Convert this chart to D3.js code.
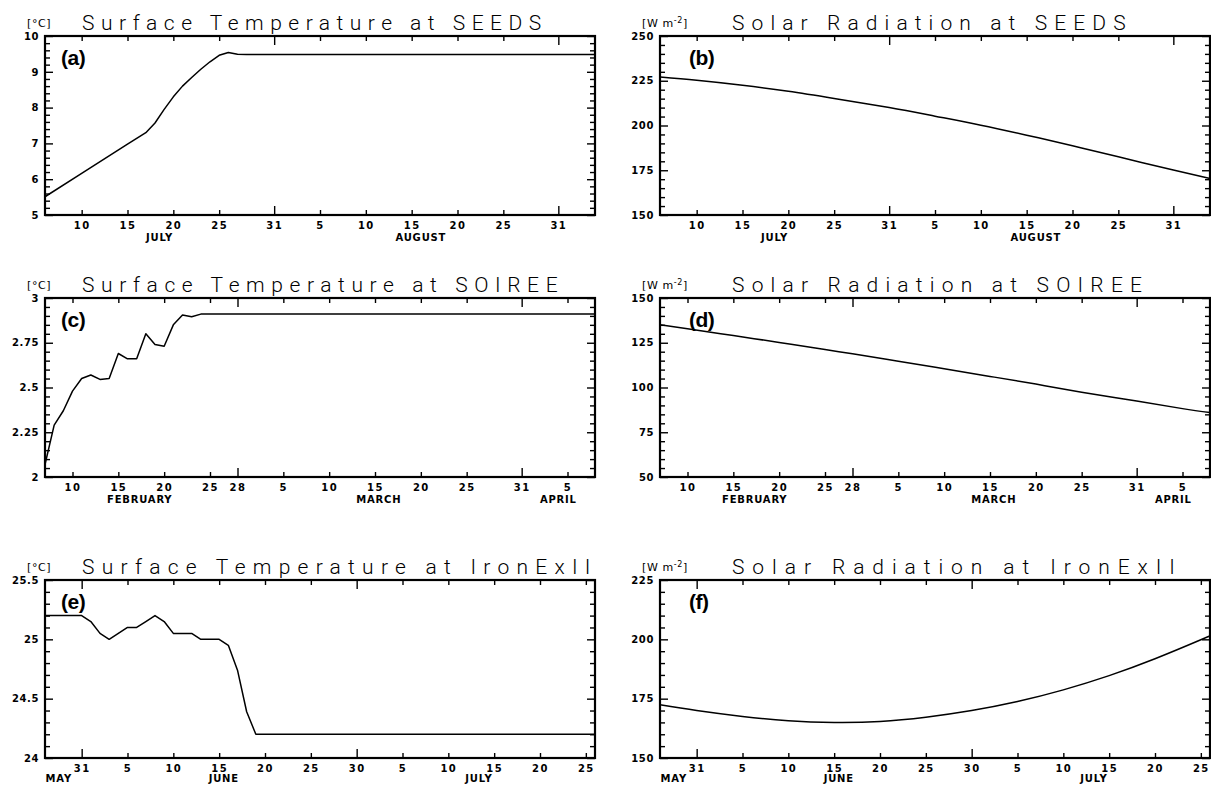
<!DOCTYPE html>
<html>
<head>
<meta charset="utf-8">
<script src="https://cdn.jsdelivr.net/npm/d3@7"></script>
<style>
  body { margin: 0; background: #fff; }
</style>
</head>
<body>
<script>
// ---- SEEDS (2001) ----
const seedsRange = ["2001-07-06", "2001-09-04"];
const seedsTempDates = ["2001-07-06","2001-07-10","2001-07-15","2001-07-17","2001-07-18","2001-07-19","2001-07-20",
  "2001-07-21","2001-07-22","2001-07-23","2001-07-24","2001-07-25","2001-07-26","2001-07-27","2001-07-28","2001-09-04"];
const seedsTempValues = [5.51, 6.16, 6.98, 7.30, 7.57, 7.95, 8.30, 8.60, 8.84, 9.07, 9.28, 9.46, 9.54, 9.49, 9.48, 9.48];
const seedsSolarDates = ["2001-07-06","2001-07-10","2001-07-15","2001-07-20","2001-07-25","2001-07-31","2001-08-05",
  "2001-08-10","2001-08-15","2001-08-20","2001-08-25","2001-08-31","2001-09-04"];
const seedsSolarValues = [227.1, 225.3, 222.5, 219.1, 215.1, 210.0, 205.2, 200.2, 194.6, 188.7, 182.5, 175.1, 170.4];
const seedsTicks = ["2001-07-10","2001-07-15","2001-07-20","2001-07-25","2001-07-31","2001-08-05","2001-08-10",
  "2001-08-15","2001-08-20","2001-08-25","2001-08-31"];
const seedsMonths = ["JULY", "AUGUST"];
const seedsMonthAt = ["2001-07-18T12:00", "2001-08-16"];

// ---- SOIREE (1999) ----
const soireeRange = ["1999-02-07", "1999-04-08"];
const soireeTempDates = ["1999-02-07","1999-02-08","1999-02-09","1999-02-10","1999-02-11","1999-02-12","1999-02-13",
  "1999-02-14","1999-02-15","1999-02-16","1999-02-17","1999-02-18","1999-02-19","1999-02-20","1999-02-21","1999-02-22",
  "1999-02-23","1999-02-24","1999-04-08"];
const soireeTempValues = [2.07, 2.29, 2.37, 2.48, 2.55, 2.57, 2.545, 2.55, 2.69, 2.66, 2.66, 2.80, 2.74, 2.73, 2.85,
  2.905, 2.895, 2.91, 2.91];
const soireeSolarDates = ["1999-02-07","1999-02-10","1999-02-15","1999-02-20","1999-02-25","1999-02-28","1999-03-05",
  "1999-03-10","1999-03-15","1999-03-20","1999-03-25","1999-03-31","1999-04-05","1999-04-08"];
const soireeSolarValues = [135.0, 132.8, 129.0, 125.2, 121.2, 118.8, 114.7, 110.5, 106.2, 101.9, 97.4, 92.4, 88.2, 86.0];
const soireeTicks = ["1999-02-10","1999-02-15","1999-02-20","1999-02-25","1999-02-28","1999-03-05","1999-03-10",
  "1999-03-15","1999-03-20","1999-03-25","1999-03-31","1999-04-05"];
const soireeMonths = ["FEBRUARY", "MARCH", "APRIL"];
const soireeMonthAt = ["1999-02-17T08:00", "1999-03-15T10:00", "1999-04-04"];

// ---- IronExII (1995) ----
const ironRange = ["1995-05-27", "1995-07-26"];
const ironTempDates = ["1995-05-27","1995-05-31","1995-06-01","1995-06-02","1995-06-03","1995-06-04","1995-06-05",
  "1995-06-06","1995-06-07","1995-06-08","1995-06-09","1995-06-10","1995-06-11","1995-06-12","1995-06-13","1995-06-14",
  "1995-06-15","1995-06-16","1995-06-17","1995-06-18","1995-06-19","1995-07-26"];
const ironTempValues = [25.2, 25.2, 25.15, 25.05, 25.0, 25.05, 25.1, 25.1, 25.15, 25.2, 25.15, 25.05, 25.05, 25.05,
  25.0, 25.0, 25.0, 24.95, 24.74, 24.39, 24.2, 24.2];
const ironSolarDates = ["1995-05-27","1995-05-31","1995-06-05","1995-06-10","1995-06-15","1995-06-20","1995-06-25",
  "1995-06-30","1995-07-05","1995-07-10","1995-07-15","1995-07-20","1995-07-25","1995-07-26"];
const ironSolarValues = [172.4, 170.0, 167.5, 165.7, 165.0, 165.4, 167.2, 170.0, 173.8, 178.7, 184.7, 191.8, 199.8, 201.5];
const ironTicks = ["1995-05-31","1995-06-05","1995-06-10","1995-06-15","1995-06-20","1995-06-25","1995-06-30",
  "1995-07-05","1995-07-10","1995-07-15","1995-07-20","1995-07-25"];
const ironMonths = ["MAY", "JUNE", "JULY"];
const ironMonthAt = ["1995-05-28T12:00", "1995-06-15T12:00", "1995-07-13T08:00"];

// parse dates as UTC
const toDate = s => new Date(s.length === 10 ? s + "T00:00Z" : s + "Z");

const W = 1211, H = 785;
const cols = [{x0: 45, x1: 595, tag: 16}, {x0: 660, x1: 1210, tag: 29}];
const rows = [{y0: 36, y1: 215}, {y0: 298, y1: 477}, {y0: 580, y1: 758}];

const panels = [
  {col: 0, row: 0, tag: "(a)", unit: "°C", title: "Surface Temperature at SEEDS",
   range: seedsRange, dates: seedsTempDates, values: seedsTempValues, ticks: seedsTicks,
   months: seedsMonths, monthAt: seedsMonthAt, yDomain: [5, 10], major: 1, minor: 0.2, smooth: false},
  {col: 1, row: 0, tag: "(b)", unit: "W m", title: "Solar Radiation at SEEDS",
   range: seedsRange, dates: seedsSolarDates, values: seedsSolarValues, ticks: seedsTicks,
   months: seedsMonths, monthAt: seedsMonthAt, yDomain: [150, 250], major: 25, minor: 5, smooth: true},
  {col: 0, row: 1, tag: "(c)", unit: "°C", title: "Surface Temperature at SOIREE",
   range: soireeRange, dates: soireeTempDates, values: soireeTempValues, ticks: soireeTicks,
   months: soireeMonths, monthAt: soireeMonthAt, yDomain: [2, 3], major: 0.25, minor: 0.05, smooth: false},
  {col: 1, row: 1, tag: "(d)", unit: "W m", title: "Solar Radiation at SOIREE",
   range: soireeRange, dates: soireeSolarDates, values: soireeSolarValues, ticks: soireeTicks,
   months: soireeMonths, monthAt: soireeMonthAt, yDomain: [50, 150], major: 25, minor: 5, smooth: true},
  {col: 0, row: 2, tag: "(e)", unit: "°C", title: "Surface Temperature at IronExII",
   range: ironRange, dates: ironTempDates, values: ironTempValues, ticks: ironTicks,
   months: ironMonths, monthAt: ironMonthAt, yDomain: [24, 25.5], major: 0.5, minor: 0.1, smooth: false},
  {col: 1, row: 2, tag: "(f)", unit: "W m", title: "Solar Radiation at IronExII",
   range: ironRange, dates: ironSolarDates, values: ironSolarValues, ticks: ironTicks,
   months: ironMonths, monthAt: ironMonthAt, yDomain: [150, 225], major: 25, minor: 5, smooth: true}
];

const svg = d3.select("body").append("svg")
  .attr("width", W)
  .attr("height", H)
  .style("display", "block");

const labelFont = "'DejaVu Sans', 'Liberation Sans', sans-serif";
const dayFmt = d3.utcFormat("%-d");
const fmtY = d3.format("~g");
const isMonthEnd = d => d3.utcDay.offset(d, 1).getUTCMonth() !== d.getUTCMonth();

function styleAxis(g) {
  g.select(".domain").remove();
  g.selectAll(".tick line").attr("stroke", "#000").attr("stroke-width", 1.4);
  g.selectAll("text")
    .attr("fill", "#000")
    .style("font-family", labelFont)
    .style("font-weight", "bold")
    .style("font-size", "10px");
}

panels.forEach(p => {
  const c = cols[p.col], r = rows[p.row];
  const x = d3.scaleUtc().domain(p.range.map(toDate)).range([c.x0, c.x1]);
  const y = d3.scaleLinear().domain(p.yDomain).range([r.y1, r.y0]);
  const g = svg.append("g");

  const [ya, yb] = p.yDomain;
  const majorVals = d3.range(ya, yb + p.major / 2, p.major);
  const minorVals = d3.range(ya, yb + p.minor / 2, p.minor)
    .filter(v => !majorVals.some(m => Math.abs(m - v) < p.minor / 10));

  // y axis left with labels, ticks pointing inward
  g.append("g").attr("transform", `translate(${c.x0},0)`)
    .call(d3.axisLeft(y).tickValues(majorVals).tickSize(-8).tickPadding(6).tickFormat(fmtY))
    .call(styleAxis)
    .call(a => a.selectAll("text").style("letter-spacing", "0.6px"));
  g.append("g").attr("transform", `translate(${c.x0},0)`)
    .call(d3.axisLeft(y).tickValues(minorVals).tickSize(-5).tickFormat(""))
    .call(styleAxis);
  // mirrored ticks on the right frame
  g.append("g").attr("transform", `translate(${c.x1},0)`)
    .call(d3.axisRight(y).tickValues(majorVals).tickSize(-8).tickFormat(""))
    .call(styleAxis);
  g.append("g").attr("transform", `translate(${c.x1},0)`)
    .call(d3.axisRight(y).tickValues(minorVals).tickSize(-5).tickFormat(""))
    .call(styleAxis);

  // x axis bottom and top
  const tickDates = p.ticks.map(toDate);
  g.append("g").attr("transform", `translate(0,${r.y1})`)
    .call(d3.axisBottom(x).tickValues(tickDates).tickSize(-5).tickPadding(7).tickFormat(dayFmt))
    .call(styleAxis)
    .call(a => a.selectAll(".tick line").attr("y2", d => isMonthEnd(d) ? -9 : -5))
    .call(a => a.selectAll("text").style("letter-spacing", "1.5px"));
  g.append("g").attr("transform", `translate(0,${r.y0})`)
    .call(d3.axisTop(x).tickValues(tickDates).tickSize(-5).tickFormat(""))
    .call(styleAxis)
    .call(a => a.selectAll(".tick line").attr("y2", d => isMonthEnd(d) ? 9 : 5));

  // month names (last row sits right at the page edge)
  g.selectAll("text.month")
    .data(p.months)
    .enter()
    .append("text")
    .attr("class", "month")
    .attr("x", (d, i) => x(toDate(p.monthAt[i])))
    .attr("y", Math.min(r.y1 + 26, H - 3))
    .attr("text-anchor", "middle")
    .style("font-family", labelFont)
    .style("font-weight", "bold")
    .style("font-size", "10px")
    .style("letter-spacing", "0.8px")
    .text(d => d);

  // data line
  const pts = p.dates.map((d, i) => [toDate(d), p.values[i]]);
  const line = d3.line()
    .x(d => x(d[0]))
    .y(d => y(d[1]))
    .curve(p.smooth ? d3.curveNatural : d3.curveLinear);
  g.append("path")
    .datum(pts)
    .attr("fill", "none")
    .attr("stroke", "#000")
    .attr("stroke-width", 1.5)
    .attr("stroke-linejoin", "round")
    .attr("d", line);

  // frame
  g.append("rect")
    .attr("x", c.x0).attr("y", r.y0)
    .attr("width", c.x1 - c.x0).attr("height", r.y1 - r.y0)
    .attr("fill", "none")
    .attr("stroke", "#000")
    .attr("stroke-width", 2.2);

  // panel tag
  g.append("text")
    .attr("x", c.x0 + c.tag)
    .attr("y", r.y0 + 29)
    .style("font-family", "'Liberation Sans', Arial, sans-serif")
    .style("font-weight", "bold")
    .style("font-size", "21px")
    .style("letter-spacing", "-0.5px")
    .text(p.tag);

  // unit label: [°C] or [W m-2] with raised exponent
  const unit = g.append("text")
    .attr("x", c.x0 - 18)
    .attr("y", r.y0 - 9)
    .style("font-family", labelFont)
    .style("font-size", "11px")
    .style("letter-spacing", "0.6px");
  unit.append("tspan").text("[" + p.unit);
  if (p.col === 1) {
    unit.append("tspan").attr("dy", -4).style("font-size", "8px").text("-2");
    unit.append("tspan").attr("dy", 4).text("]");
  } else {
    unit.append("tspan").text("]");
  }

  g.append("text")
    .attr("x", c.x0 + (p.col === 0 ? 37 : 72))
    .attr("y", r.y0 - 6)
    .attr("textLength", p.title.length * 16.4)
    .attr("lengthAdjust", "spacing")
    .style("font-family", "Roboto, 'DejaVu Sans', sans-serif")
    .style("font-weight", 300)
    .style("font-size", "21px")
    .text(p.title);
});
</script>
</body>
</html>
